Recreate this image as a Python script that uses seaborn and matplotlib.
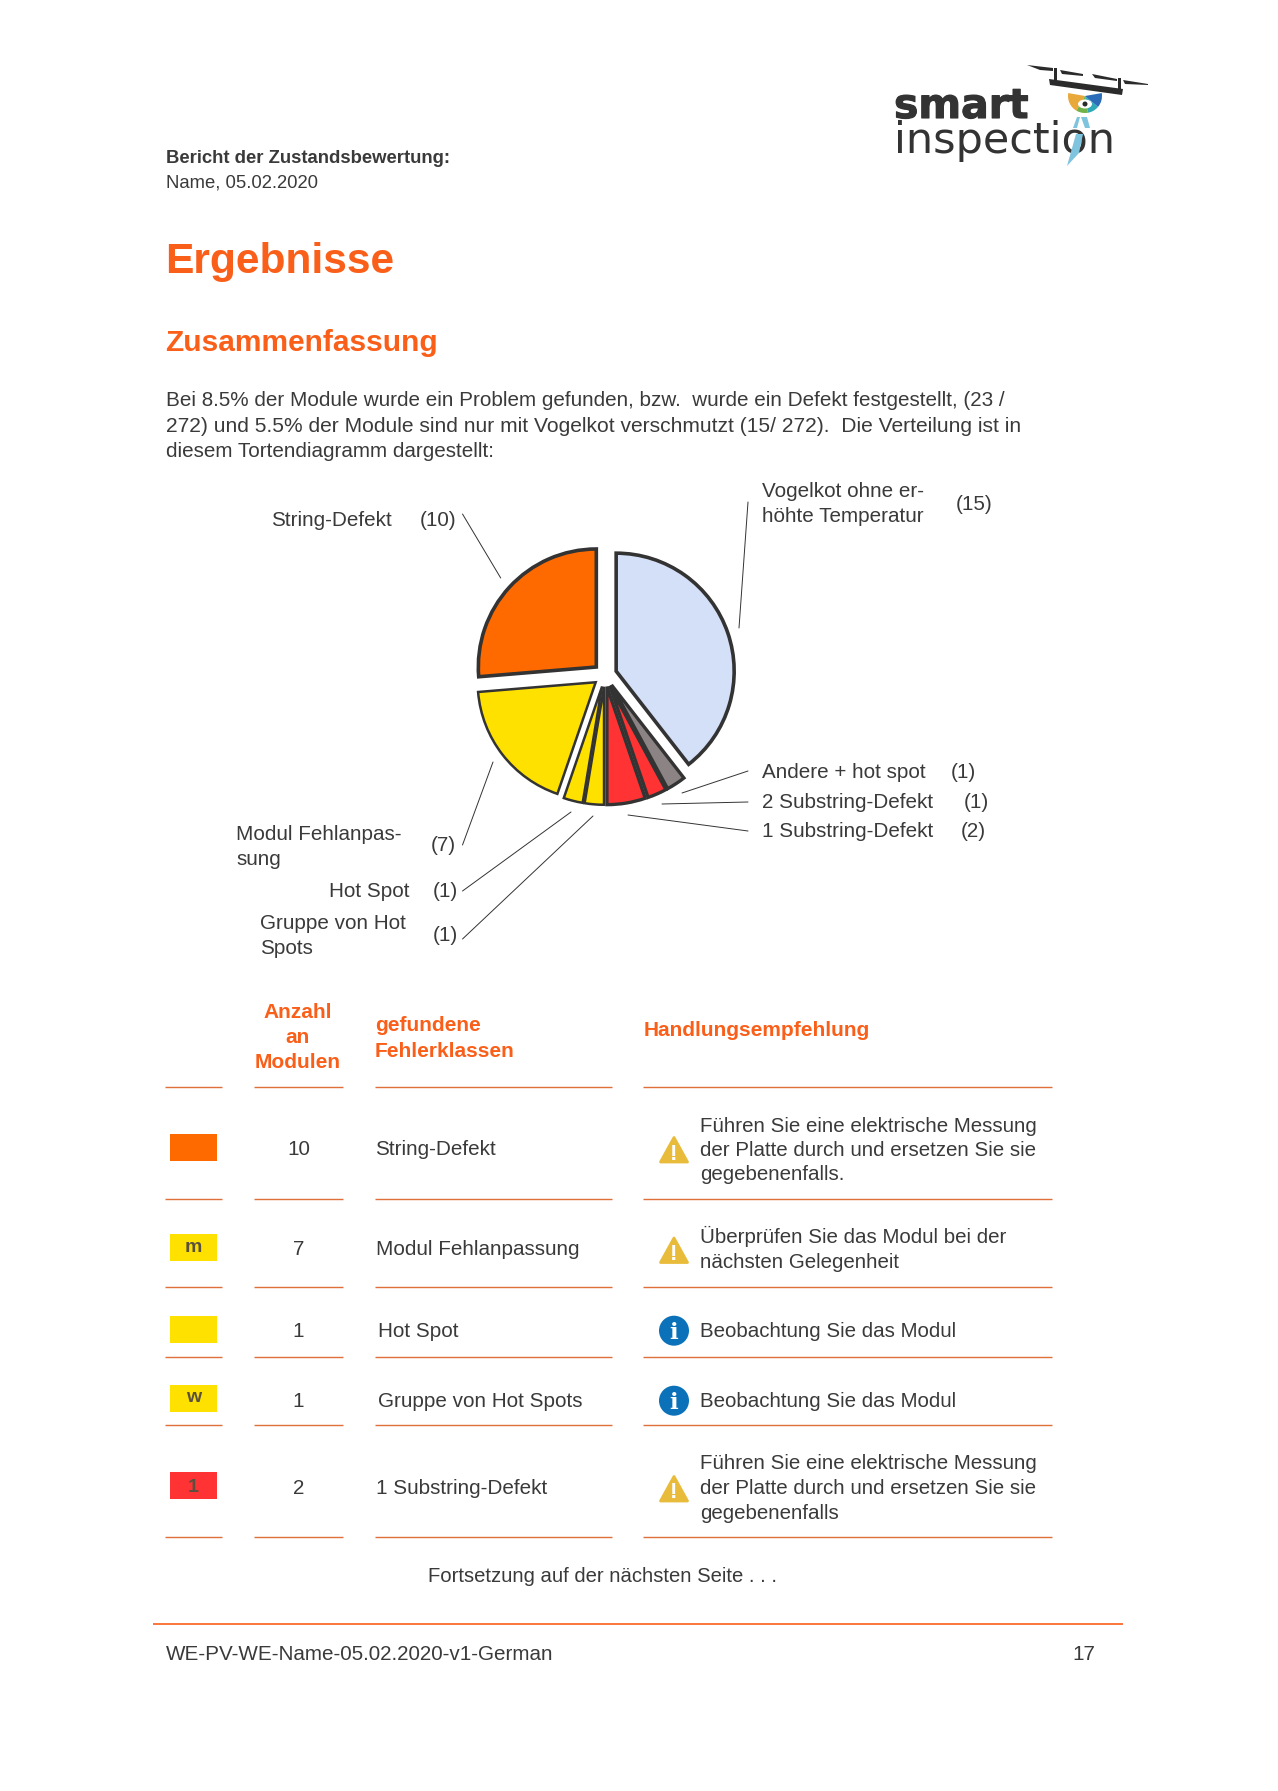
import matplotlib
matplotlib.use("Agg")
import matplotlib.pyplot as plt
import matplotlib.patheffects as pe
from matplotlib.patches import Polygon, Circle, Rectangle, Wedge, Ellipse
import seaborn as sns

sns.set_theme(style="white")
plt.rcParams['font.family'] = ['Liberation Sans', 'DejaVu Sans']

# pie data, clockwise from the top
pie_labels = ["Vogelkot", "Andere + hot spot", "2 Substring-Defekt", "1 Substring-Defekt",
              "Gruppe von Hot Spots", "Hot Spot", "Modul Fehlanpassung", "String-Defekt"]
pie_values = [15, 1, 1, 2, 1, 1, 7, 10]
pie_colors = ["#D4E0F7", "#8C8484", "#FF3333", "#FF3333", "#FFE100", "#FFE100", "#FFE100", "#FF6A00"]
pie_edges = [2.6, 2.4, 2.4, 2.4, 1.8, 1.8, 1.8, 2.6]

# table data
row_counts = [10, 7, 1, 1, 2]
row_names = ["String-Defekt", "Modul Fehlanpassung", "Hot Spot", "Gruppe von Hot Spots", "1 Substring-Defekt"]
row_colors = ["#FF6A00", "#FFE100", "#FFE100", "#FFE100", "#FF3333"]
row_marks = ["", "m", "", "w", "1"]
row_icons = ["warn", "warn", "info", "info", "warn"]
row_advice = [
    ["Führen Sie eine elektrische Messung", "der Platte durch und ersetzen Sie sie", "gegebenenfalls."],
    ["Überprüfen Sie das Modul bei der", "nächsten Gelegenheit"],
    ["Beobachtung Sie das Modul"],
    ["Beobachtung Sie das Modul"],
    ["Führen Sie eine elektrische Messung", "der Platte durch und ersetzen Sie sie", "gegebenenfalls"],
]
paragraph = [
    "Bei 8.5% der Module wurde ein Problem gefunden, bzw.  wurde ein Defekt festgestellt, (23 /",
    "272) und 5.5% der Module sind nur mit Vogelkot verschmutzt (15/ 272).  Die Verteilung ist in",
    "diesem Tortendiagramm dargestellt:",
]
paragraph_sizes = [14.9, 15.12, 14.9]

ORANGE = "#FA5F1A"
RULE = "#E0703A"
DARK = "#3A3A3A"
FS = 14.85

W, H = 1278, 1791
fig = plt.figure(figsize=(W / 100, H / 100), dpi=100, facecolor="white")
page = fig.add_axes([0, 0, 1, 1])
page.set_xlim(0, W)
page.set_ylim(H, 0)
page.axis("off")


def txt(x, y, s, size=FS, color=DARK, weight="normal", ha="left"):
    # y is the optical middle of the line, text is set on its baseline
    page.text(x, y + size * 0.48, s, fontsize=size, color=color, fontweight=weight, ha=ha, va="baseline")


def rule(x0, x1, y, color=RULE, lw=1.0):
    page.plot([x0, x1], [y, y], color=color, lw=lw, solid_capstyle="butt")


def leader(x0, y0, x1, y1):
    page.plot([x0, x1], [y0, y1], color="#333333", lw=0.7)


def poly(points, color, z=3):
    page.add_patch(Polygon(points, closed=True, facecolor=color, edgecolor="none", zorder=z))


# header
txt(166, 156.5, "Bericht der Zustandsbewertung:", size=13.3, weight="bold")
txt(166, 181, "Name, 05.02.2020", size=13.3)
txt(165.5, 258, "Ergebnisse", size=30.6, color=ORANGE, weight="bold")
txt(165.5, 341, "Zusammenfassung", size=21.5, color=ORANGE, weight="bold")
for y, line, size in zip([398.6, 424.3, 449.4], paragraph, paragraph_sizes):
    txt(166, y, line, size=size)

# pie
R = 118
cx, cy = 605, 675
span = 2.6 * R
pie_ax = fig.add_axes([(cx - span / 2) / W, 1 - (cy + span / 2) / H, span / W, span / H])
pie_ax.patch.set_alpha(0)
wedges, _ = pie_ax.pie(pie_values, colors=sns.color_palette(pie_colors), startangle=90, counterclock=False,
                       explode=[0.1] * len(pie_values), radius=1,
                       wedgeprops={"edgecolor": "#333333", "joinstyle": "miter"})
for wedge, lw in zip(wedges, pie_edges):
    wedge.set_linewidth(lw)
pie_ax.set_xlim(-1.3, 1.3)
pie_ax.set_ylim(-1.3, 1.3)

# pie labels
txt(270.7, 518.5, "String-Defekt")
txt(420, 518.5, "(10)")
txt(762, 490, "Vogelkot ohne er-")
txt(762, 515, "höhte Temperatur")
txt(955.5, 502.5, "(15)")
txt(762, 771, "Andere + hot spot")
txt(951, 771, "(1)")
txt(762, 800.6, "2 Substring-Defekt")
txt(964, 800.6, "(1)")
txt(762, 830, "1 Substring-Defekt")
txt(960.5, 830, "(2)")
txt(236.4, 832.6, "Modul Fehlanpas-")
txt(236.4, 857.7, "sung")
txt(430.6, 844, "(7)")
txt(329, 889.7, "Hot Spot")
txt(433, 889.7, "(1)")
txt(260, 921.7, "Gruppe von Hot")
txt(260, 946.8, "Spots")
txt(433, 934, "(1)")

leader(462.5, 514, 500.7, 578)
leader(748, 502, 739, 628)
leader(682, 793, 748, 771)
leader(662, 804, 748, 802)
leader(628, 815, 748, 831)
leader(493, 762, 462.5, 845)
leader(571, 812, 462.5, 891)
leader(593, 816, 462.5, 939)

# table header
for y, s in zip([1011, 1036, 1061], ["Anzahl", "an", "Modulen"]):
    txt(297.5, y, s, size=15, color=ORANGE, weight="bold", ha="center")
txt(375, 1024, "gefundene", size=15, color=ORANGE, weight="bold")
txt(375, 1049.6, "Fehlerklassen", size=15, color=ORANGE, weight="bold")
txt(644, 1029, "Handlungsempfehlung", size=15, color=ORANGE, weight="bold")

rule_ys = [1087, 1199.3, 1286.7, 1356.7, 1425.3, 1537.3]
for y in rule_ys:
    rule(165, 222, y)
    rule(254, 342.5, y)
    rule(375, 612, y)
    rule(643, 1052, y)

# table rows
swatch_tops = [1134, 1234, 1316, 1385, 1472]
row_ys = [1147.7, 1247.7, 1330, 1400, 1486.7]
name_xs = [375, 376.5, 378.5, 378.5, 376.5]
advice_ys = [[1124.5, 1148.5, 1172.7], [1236, 1261], [1330], [1400.2], [1462, 1487, 1512]]
icon_ys = [1150, 1250.5, 1330.7, 1400.7, 1489]
mark_bases = [0, 1252, 0, 1402.5, 1492]

for i, name in enumerate(row_names):
    page.add_patch(Rectangle((170, swatch_tops[i]), 47, 27, color=row_colors[i], lw=0))
    if row_marks[i]:
        page.text(193.5, mark_bases[i], row_marks[i], fontsize=14, color="#5A5040", fontweight="bold",
                  ha="center", va="baseline")
    txt(298.5, row_ys[i], str(row_counts[i]), ha="center")
    txt(name_xs[i], row_ys[i], name)
    for y, line in zip(advice_ys[i], row_advice[i]):
        txt(700, y, line, size=14.72)
    iy = icon_ys[i]
    if row_icons[i] == "warn":
        page.add_patch(Polygon([(674, iy - 12.5), (687.5, iy + 12), (660.5, iy + 12)], closed=True,
                               facecolor="#E8BC3A", edgecolor="#E8BC3A", lw=2, joinstyle="round"))
        page.text(674, iy + 9.5, "!", fontsize=16, color="white", fontweight="bold", ha="center", va="baseline")
    else:
        page.add_patch(Circle((674, iy), 15, color="#0B72B9", lw=0))
        page.text(674, iy + 8, "i", fontsize=16.5, color="white", fontweight="bold", family="DejaVu Serif",
                  ha="center", va="baseline")

# footer
txt(428, 1575, "Fortsetzung auf der nächsten Seite . . .", size=14.6)
rule(153, 1123, 1624, color=ORANGE, lw=1.2)
txt(166, 1652.6, "WE-PV-WE-Name-05.02.2020-v1-German")
txt(1095, 1652.6, "17", ha="right")

# logo
page.text(894, 118, "smart", fontsize=29.5, color="#333333", fontweight="bold", family="DejaVu Sans",
          ha="left", va="baseline", path_effects=[pe.withStroke(linewidth=0.8, foreground="#333333")])
page.text(894, 153, "inspection", fontsize=31, color="#333333", family="DejaVu Sans", ha="left", va="baseline")

# drone
poly([(1049, 79), (1123, 89), (1122, 95), (1050, 85)], "#2B2B2B")
poly([(1027, 65), (1053, 68), (1053, 71), (1040, 70)], "#2B2B2B")
poly([(1060, 70), (1083, 74), (1083, 76), (1062, 74)], "#2B2B2B")
poly([(1092, 74), (1117, 79), (1117, 81), (1095, 78)], "#2B2B2B")
poly([(1123, 80), (1148, 84), (1148, 85), (1125, 84)], "#2B2B2B")
poly([(1054, 68), (1057, 68), (1057, 80), (1054, 80)], "#2B2B2B")
poly([(1118, 78), (1121, 78), (1121, 89), (1118, 89)], "#2B2B2B")

# camera eye
for t0, t1, c in [(120, 190, "#E8A83A"), (80, 120, "#6FB24A"), (40, 80, "#2FA8B8"), (-10, 40, "#2B6CB8")]:
    page.add_patch(Wedge((1085, 96), 17, t0, t1, facecolor=c, edgecolor="none", zorder=2))
page.add_patch(Ellipse((1085, 104), 14, 9, facecolor="white", edgecolor="none", zorder=3))
page.add_patch(Circle((1085, 104), 2.5, color="#2B2B2B", lw=0, zorder=4))

# tie
poly([(1081, 117), (1087, 117), (1090, 128), (1085, 128)], "#7EC4DE")
poly([(1077, 117), (1080, 117), (1077, 128), (1073, 128)], "#7EC4DE")
poly([(1076, 134), (1083, 134), (1079, 153), (1067, 166)], "#7EC4DE", z=4)

fig.savefig("out.png", dpi=100)
